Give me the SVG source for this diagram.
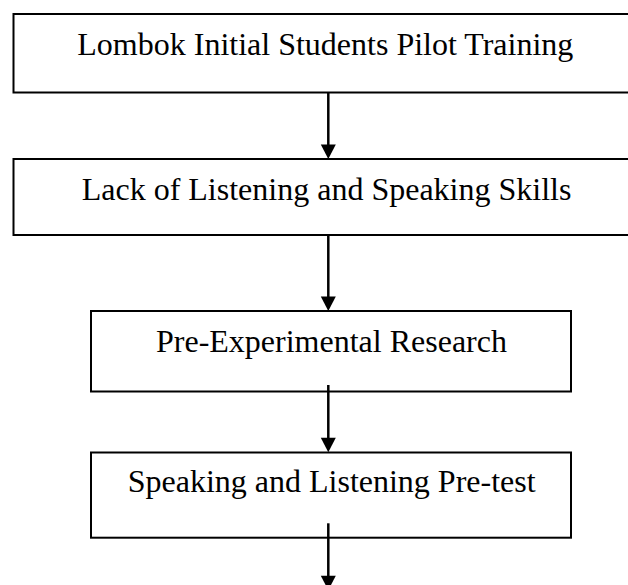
<svg xmlns="http://www.w3.org/2000/svg" width="628" height="585" viewBox="0 0 628 585">
  <style>
    .box { fill: #ffffff; stroke: #000000; stroke-width: 2; }
    .lbl { font-family: "Liberation Serif", "Times New Roman", serif; font-size: 32px; fill: #000000; }
    .conn { stroke: #000000; stroke-width: 2.5; fill: none; }
    .head { fill: #000000; stroke: none; }
  </style>
  <rect x="0" y="0" width="628" height="585" fill="#ffffff"/>
  <g id="node-lombok">
    <rect class="box" x="13.5" y="14" width="640" height="78.5"/>
    <text class="lbl" x="77.3" y="55">Lombok Initial Students Pilot Training</text>
  </g>
  <g id="node-lack">
    <rect class="box" x="13.5" y="159" width="640" height="76"/>
    <text class="lbl" x="81.7" y="199.5">Lack of Listening and Speaking Skills</text>
  </g>
  <g id="node-preexp">
    <rect class="box" x="91" y="311" width="480" height="80.5"/>
    <text class="lbl" x="156" y="351.5">Pre-Experimental Research</text>
  </g>
  <g id="node-pretest">
    <rect class="box" x="91" y="452.5" width="480" height="85.2"/>
    <text class="lbl" x="127.7" y="491.7">Speaking and Listening Pre-test</text>
  </g>
  <g id="connectors">
    <line class="conn" x1="328.3" y1="93" x2="328.3" y2="146"/>
    <polygon class="head" points="320.8,144.5 335.8,144.5 328.3,159"/>
    <line class="conn" x1="328.3" y1="235" x2="328.3" y2="298"/>
    <polygon class="head" points="320.8,296.5 335.8,296.5 328.3,311"/>
    <line class="conn" x1="328.3" y1="385" x2="328.3" y2="439"/>
    <polygon class="head" points="320.8,437.7 335.8,437.7 328.3,452.2"/>
    <line class="conn" x1="328.3" y1="523.3" x2="328.3" y2="578"/>
    <polygon class="head" points="320.8,575.7 335.8,575.7 328.3,590.2"/>
  </g>
</svg>
